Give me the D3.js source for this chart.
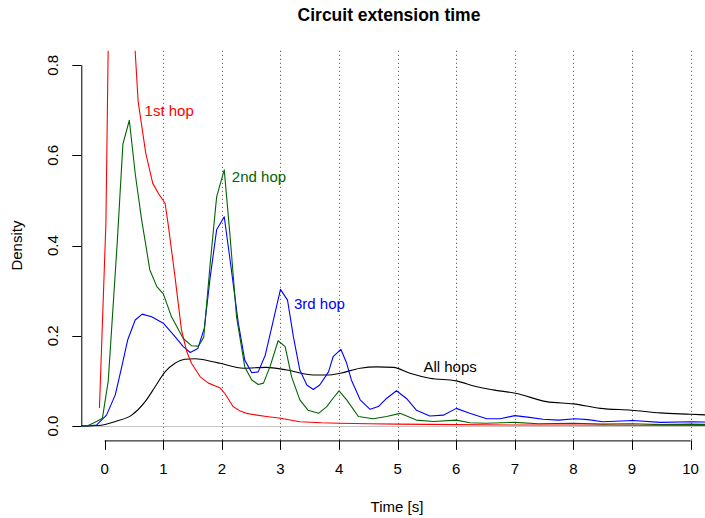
<!DOCTYPE html>
<html>
<head>
<meta charset="utf-8">
<script src="https://cdn.jsdelivr.net/npm/d3@7"></script>
<style>
	body { margin: 0; background: #fff; }
	svg { display: block; font-family: "Liberation Sans", Arial, sans-serif; }
</style>
</head>
<body>
<div id="frame"></div>
<script>
// densities, time in seconds
var hop1Time = [-0.09, 0.02, 0.08, 0.15, 0.25, 0.35, 0.45, 0.52, 0.57, 0.70, 0.82, 0.92, 1.03, 1.08, 1.2, 1.31, 1.4, 1.48, 1.63, 1.77, 1.88, 1.97, 2.05, 2.19, 2.3, 2.42, 2.6, 2.76, 3.0, 3.33, 3.7, 4.0, 4.5, 5.0, 6.0, 7.0, 8.0, 9.0, 10.5];
var hop1Density = [0.04, 0.45, 1.05, 1.35, 1.45, 1.35, 1.05, 0.83, 0.72, 0.605, 0.538, 0.515, 0.494, 0.45, 0.33, 0.213, 0.165, 0.139, 0.109, 0.095, 0.089, 0.084, 0.072, 0.043, 0.034, 0.028, 0.024, 0.021, 0.017, 0.0095, 0.007, 0.006, 0.005, 0.004, 0.003, 0.002, 0.002, 0.0015, 0.001];

var hop2Time = [-0.5, -0.3, -0.14, -0.04, 0.06, 0.215, 0.31, 0.42, 0.52, 0.63, 0.69, 0.77, 0.89, 1.0, 1.14, 1.34, 1.48, 1.60, 1.69, 1.80, 1.91, 2.04, 2.14, 2.25, 2.39, 2.51, 2.62, 2.71, 2.82, 2.96, 3.08, 3.19, 3.33, 3.47, 3.65, 3.79, 3.9, 4.0, 4.13, 4.33, 4.58, 4.81, 5.04, 5.32, 5.61, 6.0, 6.23, 6.5, 7.0, 7.4, 8.0, 8.5, 9.0, 9.5, 10.0, 10.5];
var hop2Density = [0, 0, 0.01, 0.017, 0.10, 0.41, 0.625, 0.678, 0.56, 0.457, 0.41, 0.346, 0.309, 0.293, 0.242, 0.194, 0.178, 0.177, 0.197, 0.36, 0.508, 0.568, 0.42, 0.242, 0.131, 0.102, 0.092, 0.095, 0.131, 0.189, 0.176, 0.109, 0.058, 0.035, 0.028, 0.043, 0.062, 0.078, 0.058, 0.021, 0.016, 0.021, 0.028, 0.013, 0.010, 0.013, 0.007, 0.006, 0.008, 0.005, 0.006, 0.004, 0.005, 0.003, 0.004, 0.003];

var hop3Time = [-0.5, -0.3, -0.14, 0.03, 0.18, 0.29, 0.39, 0.52, 0.64, 0.80, 1.0, 1.2, 1.34, 1.46, 1.59, 1.70, 1.80, 1.91, 2.04, 2.14, 2.28, 2.39, 2.51, 2.62, 2.74, 2.87, 3.0, 3.12, 3.22, 3.33, 3.45, 3.56, 3.67, 3.82, 3.90, 4.03, 4.13, 4.21, 4.36, 4.53, 4.67, 4.81, 4.98, 5.15, 5.32, 5.55, 5.78, 6.0, 6.23, 6.52, 6.75, 7.0, 7.25, 7.48, 7.75, 8.03, 8.25, 8.5, 9.02, 9.48, 10.0, 10.5];
var hop3Density = [0, 0, 0.002, 0.024, 0.069, 0.131, 0.19, 0.235, 0.248, 0.242, 0.228, 0.198, 0.176, 0.163, 0.172, 0.217, 0.33, 0.435, 0.464, 0.368, 0.228, 0.146, 0.118, 0.120, 0.157, 0.23, 0.303, 0.279, 0.198, 0.124, 0.091, 0.081, 0.091, 0.12, 0.154, 0.17, 0.139, 0.102, 0.058, 0.037, 0.043, 0.061, 0.078, 0.061, 0.035, 0.022, 0.024, 0.039, 0.028, 0.016, 0.016, 0.023, 0.019, 0.015, 0.013, 0.016, 0.014, 0.0095, 0.012, 0.008, 0.0095, 0.008];

var allTime = [-0.5, -0.3, -0.11, 0.18, 0.46, 0.69, 0.86, 1.03, 1.2, 1.37, 1.54, 1.83, 1.97, 2.37, 2.76, 3.11, 3.56, 3.82, 4.02, 4.36, 4.64, 4.93, 5.21, 5.55, 6.0, 6.35, 6.63, 7.03, 7.54, 8.0, 8.46, 8.99, 9.48, 10.0, 10.5];
var allDensity = [0, 0, 0.001, 0.01, 0.024, 0.054, 0.087, 0.12, 0.139, 0.148, 0.149, 0.143, 0.139, 0.128, 0.130, 0.124, 0.113, 0.113, 0.117, 0.128, 0.131, 0.130, 0.117, 0.106, 0.10, 0.087, 0.08, 0.072, 0.054, 0.049, 0.039, 0.035, 0.029, 0.026, 0.023];

var seriesNames = ["All hops", "3rd hop", "2nd hop", "1st hop"];
var labelTime = [5.44, 3.23, 2.17, 0.68];
var labelDensity = [0.131, 0.27, 0.553, 0.70];

var xTicks = [0, 1, 2, 3, 4, 5, 6, 7, 8, 9, 10];
var yTicks = [0, 0.2, 0.4, 0.6, 0.8];
var gridTimes = [1, 2, 3, 4, 5, 6, 7, 8, 9, 10];

function drawChart() {
	var width = 705, height = 518;
	var left = 81.3, right = 714, top = 50.8, bottom = 440.4;

	var x = d3.scaleLinear().domain([-0.4, 10.4]).range([left, right]);
	var y = d3.scaleLinear().domain([-0.032, 0.832]).range([bottom, top]);

	var svg = d3.select("#frame").append("svg")
		.attr("width", width)
		.attr("height", height);

	svg.append("defs").append("clipPath").attr("id", "plotclip")
		.append("rect")
		.attr("x", left).attr("y", top)
		.attr("width", right - left).attr("height", bottom - top);

	// dotted verticals
	svg.selectAll("line.grid")
		.data(gridTimes)
		.enter().append("line")
		.attr("class", "grid")
		.attr("x1", function(d) { return Math.round(x(d)) + 0.5; })
		.attr("x2", function(d) { return Math.round(x(d)) + 0.5; })
		.attr("y1", top)
		.attr("y2", bottom)
		.attr("stroke", "#444")
		.attr("stroke-width", 1)
		.attr("stroke-dasharray", "1,3");

	svg.append("line")
		.attr("x1", left).attr("x2", right)
		.attr("y1", Math.round(y(0)) + 0.5).attr("y2", Math.round(y(0)) + 0.5)
		.attr("stroke", "#c4c4c4")
		.attr("stroke-width", 1);

	var series = [
		{nom: "All hops", t: allTime, d: allDensity, col: "#000000", curve: d3.curveMonotoneX},
		{nom: "3rd hop", t: hop3Time, d: hop3Density, col: "#0000FF", curve: d3.curveLinear},
		{nom: "2nd hop", t: hop2Time, d: hop2Density, col: "#006400", curve: d3.curveLinear},
		{nom: "1st hop", t: hop1Time, d: hop1Density, col: "#FF0000", curve: d3.curveLinear}
	];

	var plot = svg.append("g").attr("clip-path", "url(#plotclip)");
	for(var i in series) {
		var s = series[i];
		var pts = s.t.map(function(t, j) { return [t, s.d[j]]; });
		var line = d3.line()
			.x(function(p) { return x(p[0]); })
			.y(function(p) { return y(p[1]); })
			.curve(s.curve);
		plot.append("path")
			.attr("d", line(pts))
			.attr("fill", "none")
			.attr("stroke", s.col)
			.attr("stroke-width", 1.1)
			.attr("stroke-linejoin", "round");
	}

	// series labels
	svg.selectAll("text.lab")
		.data(seriesNames)
		.enter().append("text")
		.attr("class", "lab")
		.attr("x", function(d, i) { return x(labelTime[i]); })
		.attr("y", function(d, i) { return y(labelDensity[i]); })
		.attr("dy", "0.35em")
		.attr("fill", function(d, i) { return series[i].col; })
		.style("font-size", "15px")
		.text(function(d) { return d; });

	// x axis
	var ax = svg.append("g").attr("stroke", "#000").attr("fill", "none");
	ax.append("line")
		.attr("x1", x(0)).attr("x2", x(10))
		.attr("y1", bottom + 0.5).attr("y2", bottom + 0.5);
	ax.selectAll("line.xt")
		.data(xTicks)
		.enter().append("line")
		.attr("class", "xt")
		.attr("x1", function(d) { return Math.round(x(d)) + 0.5; })
		.attr("x2", function(d) { return Math.round(x(d)) + 0.5; })
		.attr("y1", bottom)
		.attr("y2", bottom + 9.5);
	svg.selectAll("text.xt")
		.data(xTicks)
		.enter().append("text")
		.attr("class", "xt")
		.attr("x", function(d) { return x(d); })
		.attr("y", 469)
		.attr("dy", "0.35em")
		.attr("text-anchor", "middle")
		.style("font-size", "15px")
		.text(function(d) { return d; });

	// y axis
	var ay = svg.append("g").attr("stroke", "#000").attr("fill", "none");
	ay.append("line")
		.attr("x1", left + 0.5).attr("x2", left + 0.5)
		.attr("y1", y(0)).attr("y2", y(0.8));
	ay.selectAll("line.yt")
		.data(yTicks)
		.enter().append("line")
		.attr("class", "yt")
		.attr("x1", left - 9)
		.attr("x2", left)
		.attr("y1", function(d) { return Math.round(y(d)) + 0.5; })
		.attr("y2", function(d) { return Math.round(y(d)) + 0.5; });
	svg.selectAll("text.yt")
		.data(yTicks)
		.enter().append("text")
		.attr("class", "yt")
		.attr("transform", function(d) { return "translate(53," + y(d) + ") rotate(-90)"; })
		.attr("dy", "0.35em")
		.attr("text-anchor", "middle")
		.style("font-size", "15px")
		.text(function(d) { return d3.format(".1f")(d); });

	// titles
	svg.append("text")
		.attr("x", 389).attr("y", 15)
		.attr("dy", "0.35em")
		.attr("text-anchor", "middle")
		.style("font-size", "17.5px")
		.style("font-weight", "bold")
		.text("Circuit extension time");

	svg.append("text")
		.attr("x", 397).attr("y", 506.5)
		.attr("dy", "0.35em")
		.attr("text-anchor", "middle")
		.style("font-size", "15px")
		.text("Time [s]");

	svg.append("text")
		.attr("transform", "translate(17," + (top + bottom) / 2 + ") rotate(-90)")
		.attr("dy", "0.35em")
		.attr("text-anchor", "middle")
		.style("font-size", "15px")
		.text("Density");
}

drawChart();
</script>
</body>
</html>
